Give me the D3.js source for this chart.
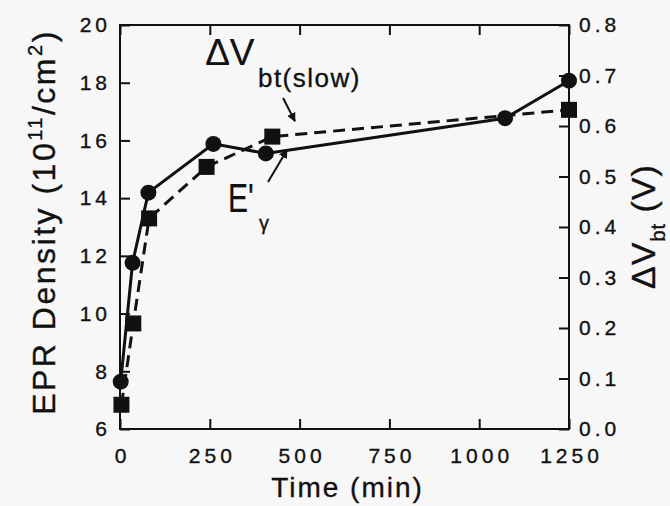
<!DOCTYPE html>
<html>
<head>
<meta charset="utf-8">
<script src="https://cdn.jsdelivr.net/npm/d3@7"></script>
<style>
  body { margin: 0; background: #f7f7f7; }
  svg { display: block; }
  text { font-family: "Liberation Sans", Arial, sans-serif; fill: #111; stroke: #111; stroke-width: 0.35px; }
  .tick text { font-size: 21px; letter-spacing: 4px; }
</style>
</head>
<body>
<div id="graph"></div>
<script>
// E'gamma EPR density (left axis, 10^11/cm^2)
var epr = [
  { t: 2, v: 7.64 },
  { t: 35, v: 11.76 },
  { t: 79, v: 14.19 },
  { t: 260, v: 15.88 },
  { t: 406, v: 15.55 },
  { t: 1072, v: 16.77 },
  { t: 1250, v: 18.07 },
];

// dV_bt(slow) (right axis, V)
var dvbt = [
  { t: 4, v: 0.048 },
  { t: 37, v: 0.209 },
  { t: 81, v: 0.417 },
  { t: 241, v: 0.519 },
  { t: 424, v: 0.579 },
  { t: 1250, v: 0.632 },
];

var xTicks = [0, 250, 500, 750, 1000, 1250];
var yLeftTicks = [6, 8, 10, 12, 14, 16, 18, 20];
var yRightTicks = [0, 0.1, 0.2, 0.3, 0.4, 0.5, 0.6, 0.7, 0.8];

var W = 670, H = 506;
var m = { left: 120, right: 101, top: 25, bottom: 77 };
var w = W - m.left - m.right, h = H - m.top - m.bottom;

var svg = d3.select("#graph").append("svg").attr("width", W).attr("height", H);
var g = svg.append("g").attr("transform", "translate(" + m.left + "," + m.top + ")");

var x = d3.scaleLinear().domain([0, 1250]).range([0, w]);
var yL = d3.scaleLinear().domain([6, 20]).range([h, 0]);
var yR = d3.scaleLinear().domain([0, 0.8]).range([h, 0]);

svg.append("defs").append("marker")
  .attr("id", "arr").attr("viewBox", "0 0 10 10").attr("refX", 9).attr("refY", 5)
  .attr("markerWidth", 9).attr("markerHeight", 9).attr("markerUnits", "userSpaceOnUse")
  .attr("orient", "auto")
  .append("path").attr("d", "M0,0L10,5L0,10z").attr("fill", "#111");

// axes, ticks pointing inward
function styleAxis(sel) {
  sel.select(".domain").remove();
  sel.selectAll(".tick line").attr("stroke", "#111").attr("stroke-width", 2);
}

g.append("g").attr("transform", "translate(0," + h + ")")
  .call(d3.axisBottom(x).tickValues(xTicks).tickSizeInner(-10).tickSizeOuter(0).tickPadding(19).tickFormat(d3.format("d")))
  .call(styleAxis)
  .selectAll("text").attr("dx", "2px");

g.append("g")
  .call(d3.axisTop(x).tickValues(xTicks).tickSizeInner(-10).tickSizeOuter(0).tickFormat(""))
  .call(styleAxis);

g.append("g")
  .call(d3.axisLeft(yL).tickValues(yLeftTicks).tickSizeInner(-10).tickSizeOuter(0).tickPadding(9).tickFormat(d3.format("d")))
  .call(styleAxis);

g.append("g").attr("transform", "translate(" + w + ",0)")
  .call(d3.axisRight(yR).tickValues(yRightTicks).tickSizeInner(-10).tickSizeOuter(0).tickPadding(10).tickFormat(d3.format(".1f")))
  .call(styleAxis);

g.selectAll(".tick text").attr("fill", "#111");

g.append("rect").attr("width", w).attr("height", h)
  .attr("fill", "none").attr("stroke", "#111").attr("stroke-width", 2);

// series
var lineL = d3.line().x(function (d) { return x(d.t); }).y(function (d) { return yL(d.v); });
var lineR = d3.line().x(function (d) { return x(d.t); }).y(function (d) { return yR(d.v); });

g.append("path").attr("d", lineR(dvbt)).attr("fill", "none")
  .attr("stroke", "#111").attr("stroke-width", 3).attr("stroke-dasharray", "12,7");
g.append("path").attr("d", lineL(epr)).attr("fill", "none")
  .attr("stroke", "#111").attr("stroke-width", 3);

g.selectAll("rect.sq").data(dvbt).enter().append("rect").attr("class", "sq")
  .attr("x", function (d) { return x(d.t) - 8; })
  .attr("y", function (d) { return yR(d.v) - 8; })
  .attr("width", 16).attr("height", 16).attr("fill", "#111");

g.selectAll("circle").data(epr).enter().append("circle")
  .attr("cx", function (d) { return x(d.t); })
  .attr("cy", function (d) { return yL(d.v); })
  .attr("r", 8).attr("fill", "#111");

// annotations (placed in data units)
g.append("text").attr("x", x(237)).attr("y", yL(18.61)).style("font-size", "37px")
  .style("stroke-width", "0.2px").text("\u0394V");
g.append("text").attr("x", x(384)).attr("y", yL(17.85))
  .style("font-size", "26px").style("letter-spacing", "1.5px").text("bt(slow)");
g.append("line")
  .attr("x1", x(454)).attr("y1", yL(17.47)).attr("x2", x(487)).attr("y2", yL(16.67))
  .attr("stroke", "#111").attr("stroke-width", 2).attr("marker-end", "url(#arr)");

g.append("text").attr("x", x(301)).attr("y", yL(13.52))
  .style("font-size", "40px").style("stroke-width", "0.2px")
  .attr("transform", "translate(" + x(301) * 0.25 + ",0) scale(0.75,1)")
  .text("E'");
g.append("text").attr("x", x(387)).attr("y", yL(12.9)).style("font-size", "20px").text("\u03b3");
g.append("line")
  .attr("x1", x(412)).attr("y1", yL(14.56)).attr("x2", x(465)).attr("y2", yL(15.67))
  .attr("stroke", "#111").attr("stroke-width", 2).attr("marker-end", "url(#arr)");

// axis titles
svg.append("text").attr("x", m.left + w / 2 + 3).attr("y", 497)
  .attr("text-anchor", "middle").style("font-size", "28px").style("letter-spacing", "2px")
  .text("Time (min)");

var yt = svg.append("text").attr("transform", "translate(55,222) rotate(-90)")
  .attr("text-anchor", "middle").style("font-size", "32px").style("letter-spacing", "2.5px");
yt.append("tspan").text("EPR Density (10");
yt.append("tspan").attr("dy", -13).style("font-size", "20px").text("11");
yt.append("tspan").attr("dy", 13).text("/cm");
yt.append("tspan").attr("dy", -13).style("font-size", "20px").text("2");
yt.append("tspan").attr("dy", 13).text(")");

var rt = svg.append("text").attr("transform", "translate(655,289) rotate(-90)")
  .style("font-size", "34px").style("letter-spacing", "1px");
rt.append("tspan").text("\u0394V");
rt.append("tspan").attr("dy", 10).style("font-size", "20px").text("bt");
rt.append("tspan").attr("dy", -10).text(" (V)");
</script>
</body>
</html>
